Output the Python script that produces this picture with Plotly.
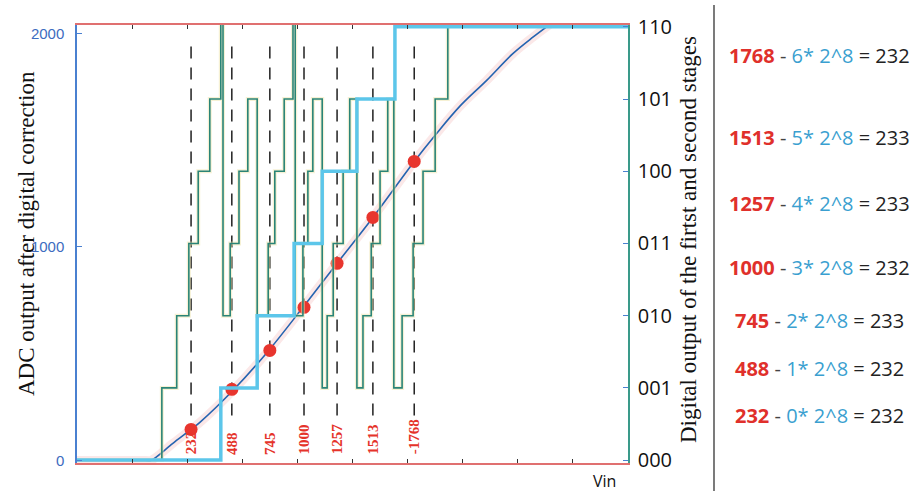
import plotly.graph_objects as go

# ---------------- data ----------------
# ADC transfer curve (Vin in arbitrary units 0..100, ADC output code)
vin_curve = [0, 12.5, 13.4, 17.4, 20.7, 22.3, 28.5, 34.8, 41.0, 47.2, 53.7, 61.2, 65.0, 69.5, 74.4, 79.1, 82.8, 86.0]
adc_curve = [0, 0, 0, 80, 145, 178, 333, 515, 717, 923, 1138, 1400, 1523, 1659, 1781, 1905, 1983, 2045]

# sampled points (red dots + dashed lines)
sample_vin = [20.7, 28.1, 35.0, 41.2, 47.2, 53.7, 61.2]
sample_adc = [145, 333, 515, 717, 923, 1138, 1400]
sample_label = ["232", "488", "745", "1000", "1257", "1513", "-1768"]

# first stage digital output (thick cyan staircase)
stage1_vin = [0, 26.1, 32.7, 39.4, 44.5, 50.8, 57.7, 100]
stage1_code = [0, 1, 2, 3, 4, 5, 6, 6]

# second stage digital output (thin green staircase); 7 = off the top of the scale
stage2_vin = [0, 15.4, 18.1, 20.3, 22.0, 24.1, 26.1, 26.5, 27.8, 29.4, 31.0,
              32.7, 34.7, 35.9, 37.6, 39.2, 39.6, 41.0, 41.9, 42.8,
              44.5, 45.4, 46.5, 48.3, 49.5, 50.8, 51.9, 53.4, 55.0, 56.4,
              57.5, 59.0, 61.0, 62.8, 65.0, 67.3, 100]
stage2_code = [0, 1, 2, 3, 4, 5, 7, 2, 3, 4, 5,
               2, 3, 4, 5, 7, 2, 3, 4, 5,
               1, 2, 3, 4, 5, 1, 2, 3, 4, 5,
               1, 2, 3, 4, 5, 7, 7]

# digital correction equations
eq_adc = [1768, 1513, 1257, 1000, 745, 488, 232]
eq_stage1 = [6, 5, 4, 3, 2, 1, 0]
eq_result = [a - k * 2 ** 8 for a, k in zip(eq_adc, eq_stage1)]

code_ticks = [0, 1, 2, 3, 4, 5, 6]
code_labels = ["000", "001", "010", "011", "100", "101", "110"]
adc_ticks = [0, 1000, 2000]
vin_ticks = [10, 20, 30, 40, 50, 60, 70, 80, 90]

# ---------------- layout constants ----------------
W, H = 914, 491
L, R, T, B = 77, 286, 25, 28
PW, PH = W - L - R, H - T - B


def px_x(px):
    return (px - L) / PW


def px_y(py):
    return (H - B - py) / PH


fig = go.Figure()

# second stage staircase: pale halo + teal line
fig.add_trace(go.Scatter(x=stage2_vin, y=stage2_code, yaxis="y2", mode="lines",
                         line=dict(shape="hv", color="rgba(238,228,170,0.5)", width=4),
                         hoverinfo="skip", showlegend=False))
fig.add_trace(go.Scatter(x=stage2_vin, y=stage2_code, yaxis="y2", mode="lines",
                         line=dict(shape="hv", color="#2a8477", width=1.6),
                         hoverinfo="skip", showlegend=False))

# dashed sample lines
for v in sample_vin:
    fig.add_trace(go.Scatter(x=[v, v], y=[210, 1975], mode="lines",
                             line=dict(color="#111111", width=1.4, dash="12px,9px"),
                             hoverinfo="skip", showlegend=False))

# first stage staircase
fig.add_trace(go.Scatter(x=stage1_vin, y=stage1_code, yaxis="y2", mode="lines",
                         line=dict(shape="hv", color="#5cc6ea", width=3.5),
                         hoverinfo="skip", showlegend=False))

# transfer curve: noisy pink halo + blue line
fig.add_trace(go.Scatter(x=vin_curve, y=adc_curve, mode="lines",
                         line=dict(shape="spline", smoothing=1.0, color="rgba(235,150,150,0.22)", width=9),
                         hoverinfo="skip", showlegend=False))
fig.add_trace(go.Scatter(x=vin_curve, y=adc_curve, mode="lines",
                         line=dict(shape="spline", smoothing=1.0, color="#2563b0", width=1.6),
                         hoverinfo="skip", showlegend=False))

# red sample dots
fig.add_trace(go.Scatter(x=sample_vin, y=sample_adc, mode="markers",
                         marker=dict(color="#e8352e", size=13),
                         hoverinfo="skip", showlegend=False))

annotations = []
# rotated sample labels (bottom-aligned)
for v, lab in zip(sample_vin, sample_label):
    annotations.append(dict(x=v, y=18, xref="x", yref="y", text=f"<b>{lab}</b>",
                            textangle=-90, showarrow=False, xanchor="center", yanchor="bottom",
                            font=dict(family="Liberation Serif", size=15, color="#e5332a")))

# axis titles
annotations.append(dict(x=px_x(27), y=px_y(234), xref="paper", yref="paper",
                        text="ADC output after digital correction", textangle=-90,
                        showarrow=False, xanchor="center", yanchor="middle",
                        font=dict(family="Liberation Serif", size=23, color="#111")))
annotations.append(dict(x=px_x(688), y=px_y(240), xref="paper", yref="paper",
                        text="Digital output of the firtst and second stages", textangle=-90,
                        showarrow=False, xanchor="center", yanchor="middle",
                        font=dict(family="Liberation Serif", size=23, color="#111")))
annotations.append(dict(x=px_x(604), y=px_y(481), xref="paper", yref="paper",
                        text="Vin", showarrow=False, xanchor="center", yanchor="middle",
                        font=dict(family="Open Sans", size=16, color="#111")))

# equations
eq_y_px = [55, 137, 203, 267, 320, 368, 415]
for a, k, r, ypx in zip(eq_adc, eq_stage1, eq_result, eq_y_px):
    txt = (f"<span style='color:#e0302b'><b>{a}</b></span>"
           f"<span style='color:#444'> - </span>"
           f"<span style='color:#3a9fd0'>{k}* 2^8</span>"
           f"<span style='color:#222'> = {r}</span>")
    annotations.append(dict(x=px_x(819), y=px_y(ypx), xref="paper", yref="paper",
                            text=txt, showarrow=False, xanchor="center", yanchor="middle",
                            font=dict(family="Open Sans", size=20, color="#222")))

fig.update_layout(
    width=W, height=H,
    margin=dict(l=L, r=R, t=T, b=B, pad=0),
    paper_bgcolor="white", plot_bgcolor="white",
    showlegend=False,
    xaxis=dict(range=[0, 100], showgrid=False, zeroline=False,
               showline=True, linecolor="#e07070", linewidth=1.5, mirror="ticks",
               ticks="inside", tickvals=vin_ticks, ticklen=4, tickcolor="#333",
               showticklabels=False),
    yaxis=dict(range=[-12, 2039], showgrid=False, zeroline=False,
               showline=True, linecolor="#4a80d0", linewidth=1.5,
               ticks="inside", tickvals=adc_ticks, ticklen=5, tickcolor="#4a80d0",
               ticklabelstandoff=8,
               tickfont=dict(family="Liberation Sans", size=15, color="#3d6cc0")),
    yaxis2=dict(range=[-0.04, 6.025], overlaying="y", side="right",
                showgrid=False, zeroline=False,
                showline=True, linecolor="#3a9a8a", linewidth=1.5,
                ticks="inside", tickvals=code_ticks, ticktext=code_labels,
                ticklen=5, tickcolor="#4a80d0", ticklabelstandoff=4,
                tickfont=dict(family="Open Sans", size=20, color="#111")),
    annotations=annotations,
    shapes=[dict(type="line", xref="paper", yref="paper",
                 x0=px_x(714), x1=px_x(714), y0=px_y(491), y1=px_y(5),
                 line=dict(color="#222", width=1.2))],
)

fig.write_html("out.html", config={"displayModeBar": False},
               post_script="document.body.style.margin='0';document.body.style.overflow='hidden';")
